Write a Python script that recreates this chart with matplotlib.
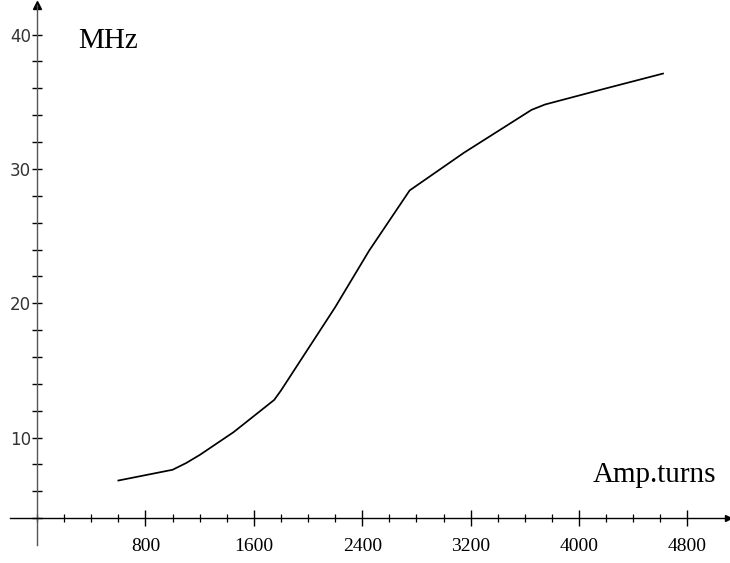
import numpy as np
import matplotlib
matplotlib.use("Agg")
import matplotlib.pyplot as plt

# frequency vs. ampere-turns
amp_turns = [600, 1000, 1100, 1200, 1450, 1750, 1800, 2200, 2450, 2750, 2850,
             3150, 3650, 3750, 4200, 4620]
mhz = [6.8, 7.6, 8.1, 8.7, 10.4, 12.8, 13.5, 19.7, 23.9, 28.4, 29.1,
       31.2, 34.4, 34.8, 36.0, 37.1]

x_major = [800, 1600, 2400, 3200, 4000, 4800]
x_minor = np.arange(0, 5000, 200)
y_ticks = np.arange(4, 42, 2)
y_labels = [str(v) if v % 10 == 0 else "" for v in y_ticks]

fig = plt.figure(figsize=(7.3, 5.63), dpi=100)
ax = fig.add_axes([0.0137, 0.032, 0.9836, 0.959])

ax.plot(amp_turns, mhz, color="black", lw=1.25)

ax.set_xlim(-200, 5100)
ax.set_ylim(2.0, 42.2)

# axes cross at (0, 4) like a hand-drawn graph
for s in ["top", "right"]:
    ax.spines[s].set_visible(False)
ax.spines["left"].set_position(("data", 0))
ax.spines["bottom"].set_position(("data", 4))
ax.spines["left"].set_color("#555555")
ax.spines["left"].set_linewidth(1.0)
ax.spines["bottom"].set_linewidth(1.0)

ax.set_xticks(x_major)
ax.set_xticklabels([str(v) for v in x_major], family="Liberation Serif", fontsize=14)
ax.set_xticks(x_minor, minor=True)
ax.tick_params(axis="x", which="major", direction="inout", length=11, width=1.0, pad=9)
ax.tick_params(axis="x", which="minor", direction="inout", length=6, width=0.9)

ax.set_yticks(y_ticks)
ax.set_yticklabels(y_labels, family="DejaVu Sans", fontsize=12, color="#333333")
ax.tick_params(axis="y", direction="inout", length=7, width=1.0, pad=1)

# arrow heads at the ends of both axes
ax.plot(1, 4, ">", color="black", ms=5, transform=ax.get_yaxis_transform(), clip_on=False)
ax.plot(0, 1, "^", color="black", ms=6, transform=ax.get_xaxis_transform(), clip_on=False)

ax.text(300, 39.0, "MHz", family="Liberation Serif", fontsize=21, va="baseline")
ax.text(5010, 6.67, "Amp.turns", family="Liberation Serif", fontsize=21,
        va="baseline", ha="right")

fig.savefig("out.png", dpi=100)
